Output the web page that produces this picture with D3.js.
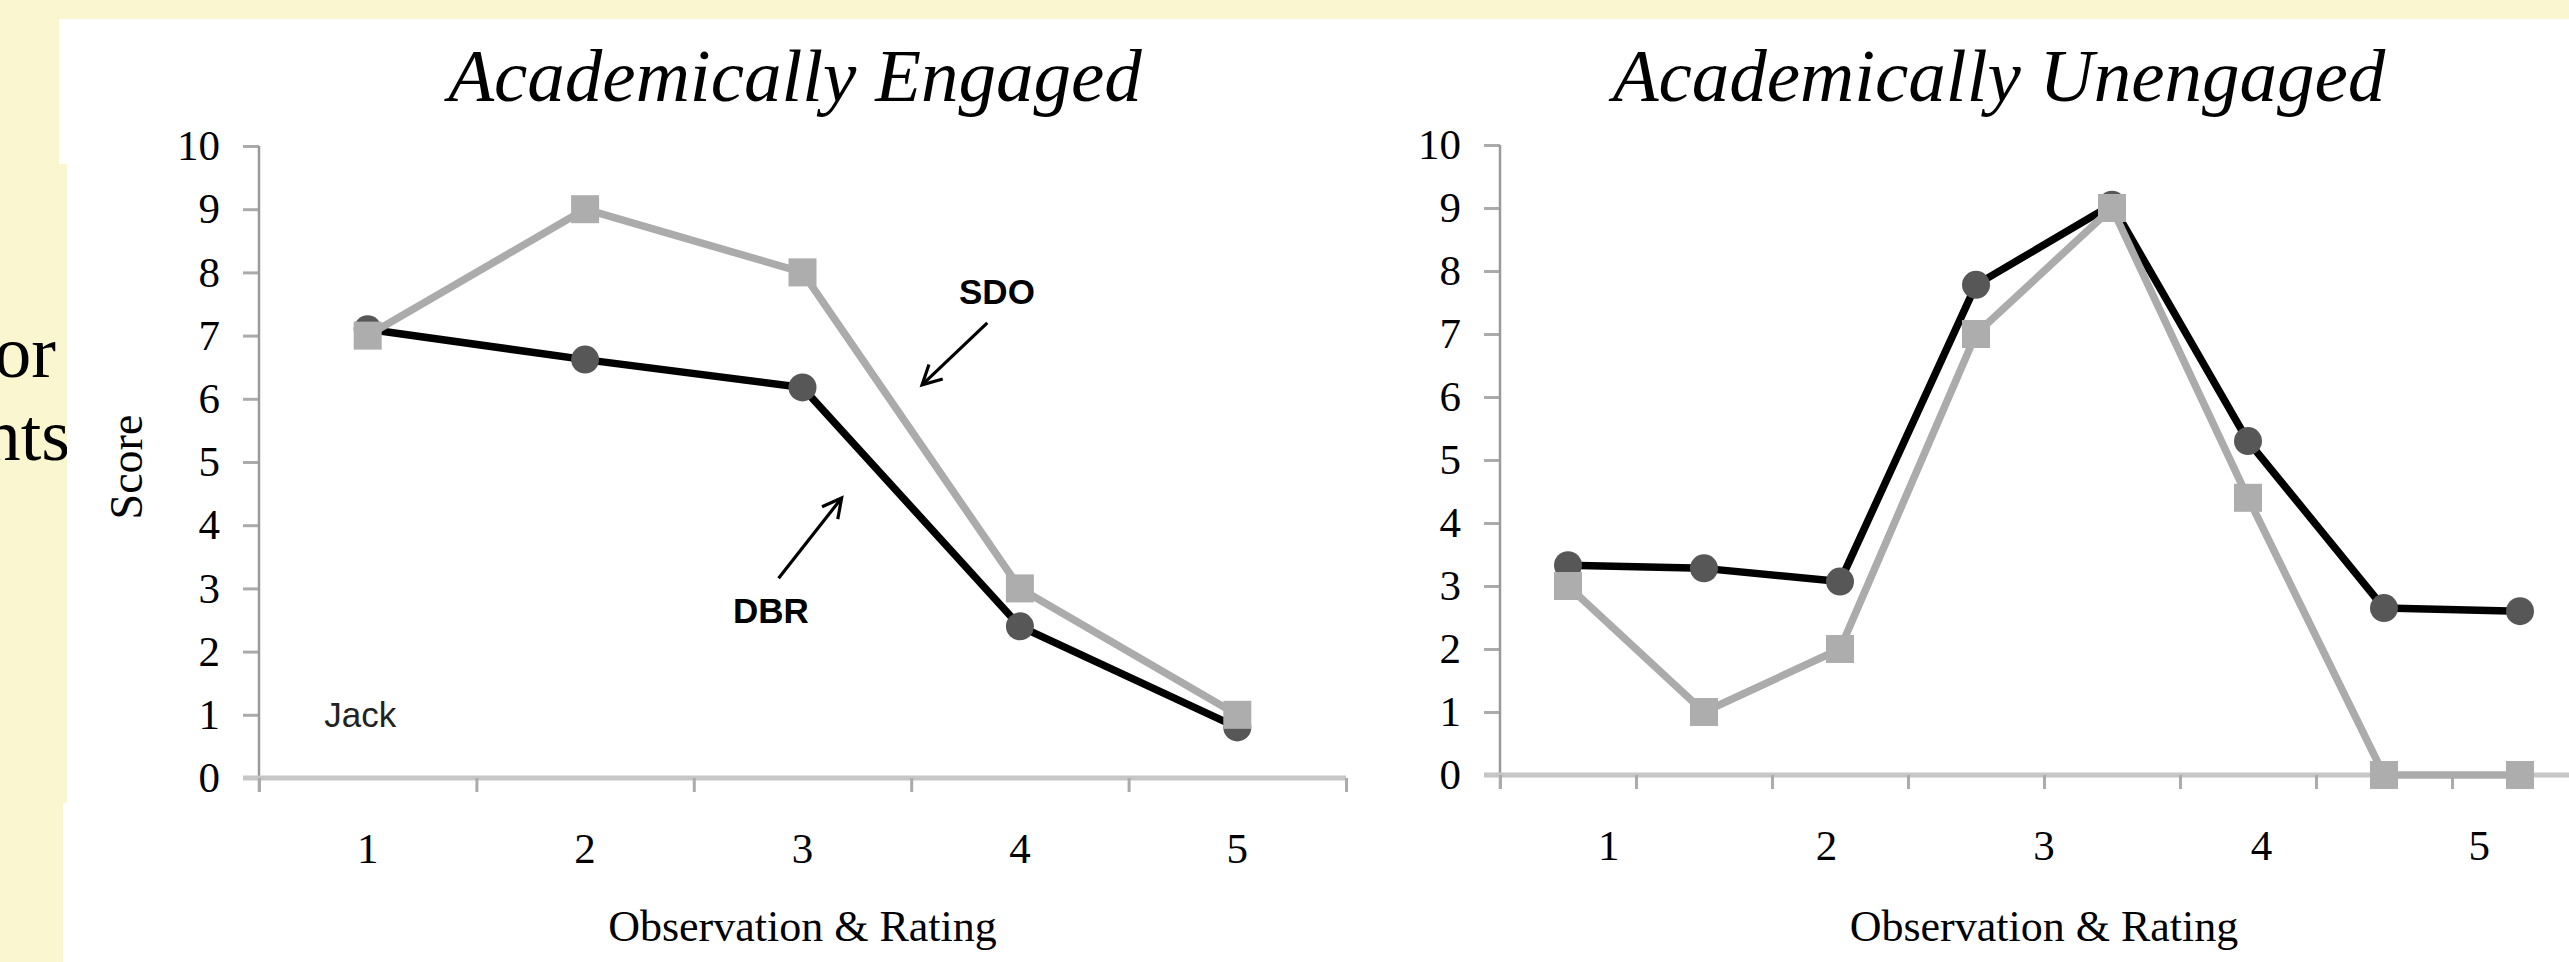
<!DOCTYPE html>
<html><head><meta charset="utf-8">
<script src="https://cdn.jsdelivr.net/npm/d3@7"></script>
<style>
html,body{margin:0;padding:0;background:#FAF7D0;overflow:hidden}
svg{display:block}
</style></head><body>
<svg id="c" width="2569" height="962"></svg>
<script>
// ---- data ----
const yTicks = [0,1,2,3,4,5,6,7,8,9,10];
const titles = ["Academically Engaged", "Academically Unengaged"];
const xTitle = "Observation & Rating";
const yTitle = "Score";
const seriesNames = ["DBR", "SDO"];
const studentName = "Jack";
const slideText = ["for", "nts"];
const leftObs = ["1","2","3","4","5"];
const leftDBR = [7.1, 6.62, 6.18, 2.4, 0.8];
const leftSDO = [7, 9, 8, 3, 1];
const rightObs = ["1","2","3","4","5","6","7","8"];
const rightDBR = [3.33, 3.28, 3.07, 7.78, 9.05, 5.3, 2.65, 2.6];
const rightSDO = [3, 1, 2, 7, 9, 4.4, 0, 0];
const rightTickLabels = ["1","2","3","4","5"];

// ---- layout ----
const W = 2569, H = 962;
const SERIF = "'Liberation Serif','Times New Roman',serif";
const SANS = "'Liberation Sans',Arial,sans-serif";
const svg = d3.select("#c");

svg.append("rect").attr("width", W).attr("height", H).attr("fill", "#FAF7D0");

// text of the slide behind (mostly hidden by the picture, as in the original)
svg.append("text").attr("x", 56).attr("y", 377).attr("text-anchor", "end")
  .style("font-family", SERIF).style("font-size", "74px").attr("fill", "#000").text(slideText[0]);
svg.append("text").attr("x", 70).attr("y", 460).attr("text-anchor", "end")
  .style("font-family", SERIF).style("font-size", "74px").attr("fill", "#000").text(slideText[1]);

// white picture area
[[59, 19, W - 59, 145], [67, 163, W - 67, 641], [63, 803, W - 63, 159]].forEach(r => {
  svg.append("rect").attr("x", r[0]).attr("y", r[1]).attr("width", r[2]).attr("height", r[3]).attr("fill", "#fff");
});

// arrow marker
const defs = svg.append("defs");
defs.append("marker").attr("id", "arr").attr("markerUnits", "userSpaceOnUse")
  .attr("viewBox", "0 0 26 26").attr("markerWidth", 26).attr("markerHeight", 26)
  .attr("refX", 22).attr("refY", 13).attr("orient", "auto")
  .append("path").attr("d", "M3,3 L22,13 L3,23").attr("fill", "none")
  .attr("stroke", "#000").attr("stroke-width", 3.2).attr("stroke-linejoin", "miter");

const panels = [
  {title: titles[0], obs: leftObs, dbr: leftDBR, sdo: leftSDO, labels: leftObs,
   x0: 259, x1: 1346, y0: 778, y1: 146, titleX: 795, showY: true, annotate: true},
  {title: titles[1], obs: rightObs, dbr: rightDBR, sdo: rightSDO, labels: rightTickLabels,
   x0: 1500, x1: 2588, y0: 775, y1: 145, titleX: 1999, showY: false, annotate: false}
];

panels.forEach(p => {
  const g = svg.append("g");
  const y = d3.scaleLinear().domain([0, 10]).range([p.y0, p.y1]);
  const x = d3.scaleBand().domain(p.obs).range([p.x0, p.x1]);
  const xl = d3.scaleBand().domain(p.labels).range([p.x0, p.x1]);
  const xb = d3.scaleLinear().domain([0, p.obs.length]).range([p.x0, p.x1]);
  const xu = d3.scaleLinear().domain([0, 5]).range([p.x0, p.x1]);

  // title
  g.append("text").attr("x", p.titleX).attr("y", 101).attr("text-anchor", "middle")
    .style("font-family", SERIF).style("font-style", "italic").style("font-size", "75px")
    .attr("fill", "#000").text(p.title);

  // y axis
  const ya = g.append("g").attr("transform", `translate(${p.x0},0)`)
    .call(d3.axisLeft(y).tickValues(yTicks).tickSize(16).tickPadding(23).tickSizeOuter(0));
  ya.select(".domain").remove();
  ya.selectAll(".tick line").attr("stroke", "#ababab").attr("stroke-width", 3);
  ya.selectAll(".tick text").attr("fill", "#000")
    .style("font-family", SERIF).style("font-size", "43px");
  ya.append("line").attr("x1", 0).attr("x2", 0).attr("y1", y(10)).attr("y2", y(0) + 14)
    .attr("stroke", "#9a9a9a").attr("stroke-width", 2.5);

  // x axis line and boundary ticks
  g.append("line").attr("x1", p.x0 - 16).attr("x2", p.x1).attr("y1", y(0)).attr("y2", y(0))
    .attr("stroke", "#c6c6c6").attr("stroke-width", 5);
  const xt = g.append("g").attr("transform", `translate(0,${y(0)})`)
    .call(d3.axisBottom(xb).tickValues(d3.range(p.obs.length + 1)).tickSize(14).tickFormat(""));
  xt.select(".domain").remove();
  xt.selectAll(".tick line").attr("stroke", "#ababab").attr("stroke-width", 3);

  // x labels
  const xa = g.append("g").attr("transform", `translate(0,${y(0)})`)
    .call(d3.axisBottom(xl).tickSize(0).tickPadding(54));
  xa.select(".domain").remove();
  xa.selectAll(".tick text").attr("fill", "#000")
    .style("font-family", SERIF).style("font-size", "43px");

  // x title
  g.append("text").attr("x", (p.x0 + p.x1) / 2).attr("y", 941).attr("text-anchor", "middle")
    .style("font-family", SERIF).style("font-size", "44px").attr("fill", "#000").text(xTitle);

  if (p.showY) {
    g.append("text").attr("transform", `translate(142,${(y(10) + y(0)) / 2 + 5}) rotate(-90)`)
      .attr("text-anchor", "middle").style("font-family", SERIF).style("font-size", "46px")
      .attr("fill", "#000").text(yTitle);
  }

  const cx = (d, i) => x(p.obs[i]) + x.bandwidth() / 2;
  const line = d3.line().x((d, i) => cx(d, i)).y(d => y(d));

  // DBR
  g.append("path").datum(p.dbr).attr("d", line).attr("fill", "none")
    .attr("stroke", "#000").attr("stroke-width", 7.5).attr("stroke-linejoin", "round");
  g.selectAll("circle.dbr").data(p.dbr).join("circle").attr("class", "dbr")
    .attr("cx", cx).attr("cy", d => y(d)).attr("r", 14).attr("fill", "#575757");

  // SDO
  g.append("path").datum(p.sdo).attr("d", line).attr("fill", "none")
    .attr("stroke", "#ababab").attr("stroke-width", 7.5).attr("stroke-linejoin", "round");
  g.selectAll("rect.sdo").data(p.sdo).join("rect").attr("class", "sdo")
    .attr("x", (d, i) => cx(d, i) - 14).attr("y", d => y(d) - 14)
    .attr("width", 28).attr("height", 28).attr("fill", "#adadad");

  if (p.annotate) {
    g.append("text").attr("x", xu(3.22)).attr("y", y(7.5))
      .style("font-family", SANS).style("font-weight", "bold").style("font-size", "35px")
      .attr("fill", "#000").text(seriesNames[1]);
    g.append("line").attr("x1", xu(3.35)).attr("y1", y(7.2)).attr("x2", xu(3.05)).attr("y2", y(6.22))
      .attr("stroke", "#000").attr("stroke-width", 3.2).attr("marker-end", "url(#arr)");
    g.append("text").attr("x", xu(2.18)).attr("y", y(2.45))
      .style("font-family", SANS).style("font-weight", "bold").style("font-size", "35px")
      .attr("fill", "#000").text(seriesNames[0]);
    g.append("line").attr("x1", xu(2.39)).attr("y1", y(3.16)).attr("x2", xu(2.68)).attr("y2", y(4.43))
      .attr("stroke", "#000").attr("stroke-width", 3.2).attr("marker-end", "url(#arr)");
    g.append("text").attr("x", xu(0.3)).attr("y", y(0.8))
      .style("font-family", SANS).style("font-size", "35px")
      .attr("fill", "#222").text(studentName);
  }
});
</script>
</body></html>
